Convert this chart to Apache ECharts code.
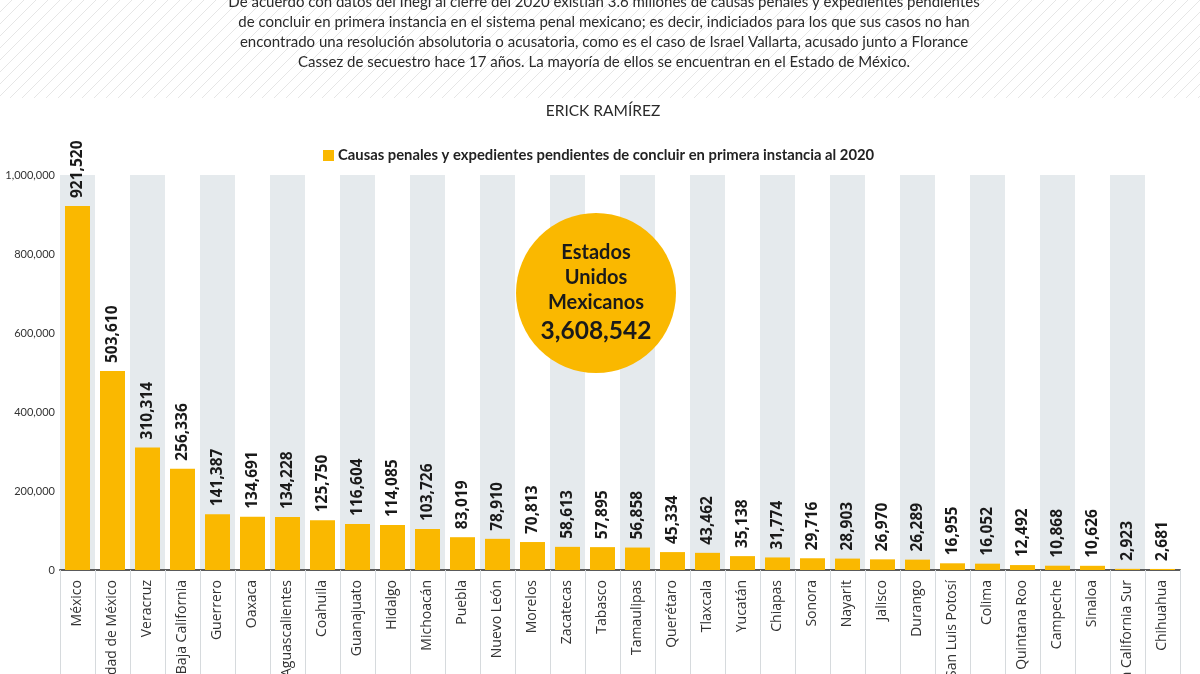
<!DOCTYPE html>
<html>
<head>
<meta charset="utf-8">
<script src="https://cdn.jsdelivr.net/npm/echarts@6/dist/echarts.min.js"></script>
<style>html,body{margin:0;padding:0;background:#fff}#c{width:1200px;height:674px}</style>
</head>
<body>
<div id="c"></div>
<script>
const categories = ['México','Ciudad de México','Veracruz','Baja California','Guerrero','Oaxaca','Aguascalientes','Coahuila','Guanajuato','Hidalgo','Michoacán','Puebla','Nuevo León','Morelos','Zacatecas','Tabasco','Tamaulipas','Querétaro','Tlaxcala','Yucatán','Chiapas','Sonora','Nayarit','Jalisco','Durango','San Luis Potosí','Colima','Quintana Roo','Campeche','Sinaloa','Baja California Sur','Chihuahua'];
const values = [921520,503610,310314,256336,141387,134691,134228,125750,116604,114085,103726,83019,78910,70813,58613,57895,56858,45334,43462,35138,31774,29716,28903,26970,26289,16955,16052,12492,10868,10626,2923,2681];
const seriesName = 'Causas penales y expedientes pendientes de concluir en primera instancia al 2020';
const paragraph = [
  'De acuerdo con datos del Inegi al cierre del 2020 existían 3.6 millones de causas penales y expedientes pendientes',
  'de concluir en primera instancia en el sistema penal mexicano; es decir, indiciados para los que sus casos no han',
  'encontrado una resolución absolutoria o acusatoria, como es el caso de Israel Vallarta, acusado junto a Florance',
  'Cassez de secuestro hace 17 años. La mayoría de ellos se encuentran en el Estado de México.'
];
const author = 'ERICK RAMÍREZ';
const totalLabel = ['Estados', 'Unidos', 'Mexicanos'];

const fmt = v => v.toLocaleString('en-US');
const total = values.reduce((a, b) => a + b, 0);

// hatch pattern for header band
const pc = document.createElement('canvas');
pc.width = 12; pc.height = 12;
const px = pc.getContext('2d');
px.strokeStyle = '#e6e6e6';
px.lineWidth = 1;
px.beginPath();
px.moveTo(0, 12); px.lineTo(12, 0);
px.moveTo(-6, 6); px.lineTo(6, -6);
px.moveTo(6, 18); px.lineTo(18, 6);
px.stroke();

const FONT = 'Lato, "Open Sans", sans-serif';
const chart = echarts.init(document.getElementById('c'), null, {renderer: 'canvas'});
chart.setOption({
  backgroundColor: '#fff',
  animation: false,
  textStyle: {fontFamily: FONT},
  legend: {
    top: 143, left: 318,
    icon: 'rect', itemWidth: 11, itemHeight: 11, itemGap: 4,
    textStyle: {fontFamily: FONT, fontSize: 14.8, fontWeight: 'bold', color: '#222', padding: [0,0,0,-1]},
    data: [seriesName]
  },
  grid: {left: 60, right: 20, top: 175, bottom: 104, containLabel: false, outerBoundsMode: 'none'},
  xAxis: {
    type: 'category',
    data: categories,
    axisLine: {show: true, lineStyle: {color: '#5a5a5a', width: 2}},
    axisTick: {show: true, length: 110, lineStyle: {color: '#d6dadd', width: 1}},
    axisLabel: {rotate: 90, interval: 0, fontSize: 14, color: '#333', margin: 10, fontFamily: '"Open Sans", sans-serif'},
    splitArea: {show: true, interval: 0, areaStyle: {color: ['#e5eaed', '#ffffff']}},
    z: 3
  },
  yAxis: {
    type: 'value', min: 0, max: 1000000, interval: 200000,
    axisLine: {show: false}, axisTick: {show: false},
    axisLabel: {fontSize: 11, color: '#333', margin: 5, formatter: v => fmt(v), fontFamily: FONT},
    splitLine: {show: true, lineStyle: {color: '#eef1f3', width: 1}}
  },
  series: [{
    name: seriesName,
    type: 'bar',
    data: values,
    barWidth: 25,
    itemStyle: {color: '#FAB800'},
    label: {
      show: true, position: 'top', rotate: 90, align: 'left', verticalAlign: 'middle',
      distance: 8, fontSize: 15.5, fontWeight: 'bold', color: '#1a1a1a', fontFamily: '"Open Sans", sans-serif',
      formatter: p => fmt(p.value)
    },
    z: 4
  }],
  graphic: [
    {type: 'rect', shape: {x: 0, y: 0, width: 1200, height: 98}, style: {fill: {image: pc, repeat: 'repeat'}}, z: -10, silent: true},
    {type: 'text', x: 604, y: -8, style: {text: paragraph.join('\n'), fontFamily: FONT, fontSize: 15, lineHeight: 20, fill: '#2a2a2a', textAlign: 'center'}, z: 10},
    {type: 'text', x: 603, y: 103, style: {text: author, fontFamily: FONT, fontSize: 15.5, fill: '#2a2a2a', textAlign: 'center'}, z: 10},
    {type: 'circle', shape: {cx: 596, cy: 293, r: 80}, style: {fill: '#FAB800'}, z: 20},
    {type: 'text', x: 596, y: 240, z: 21, style: {
      text: totalLabel.map(t => '{a|' + t + '}').join('\n') + '\n{b|' + fmt(total) + '}',
      textAlign: 'center',
      rich: {
        a: {fontFamily: FONT, fontSize: 20, fontWeight: 'bold', lineHeight: 25, fill: '#1a1a1a', align: 'center'},
        b: {fontFamily: FONT, fontSize: 24.5, fontWeight: 'bold', lineHeight: 32, fill: '#1a1a1a', align: 'center'}
      }
    }}
  ]
});
</script>
</body>
</html>
